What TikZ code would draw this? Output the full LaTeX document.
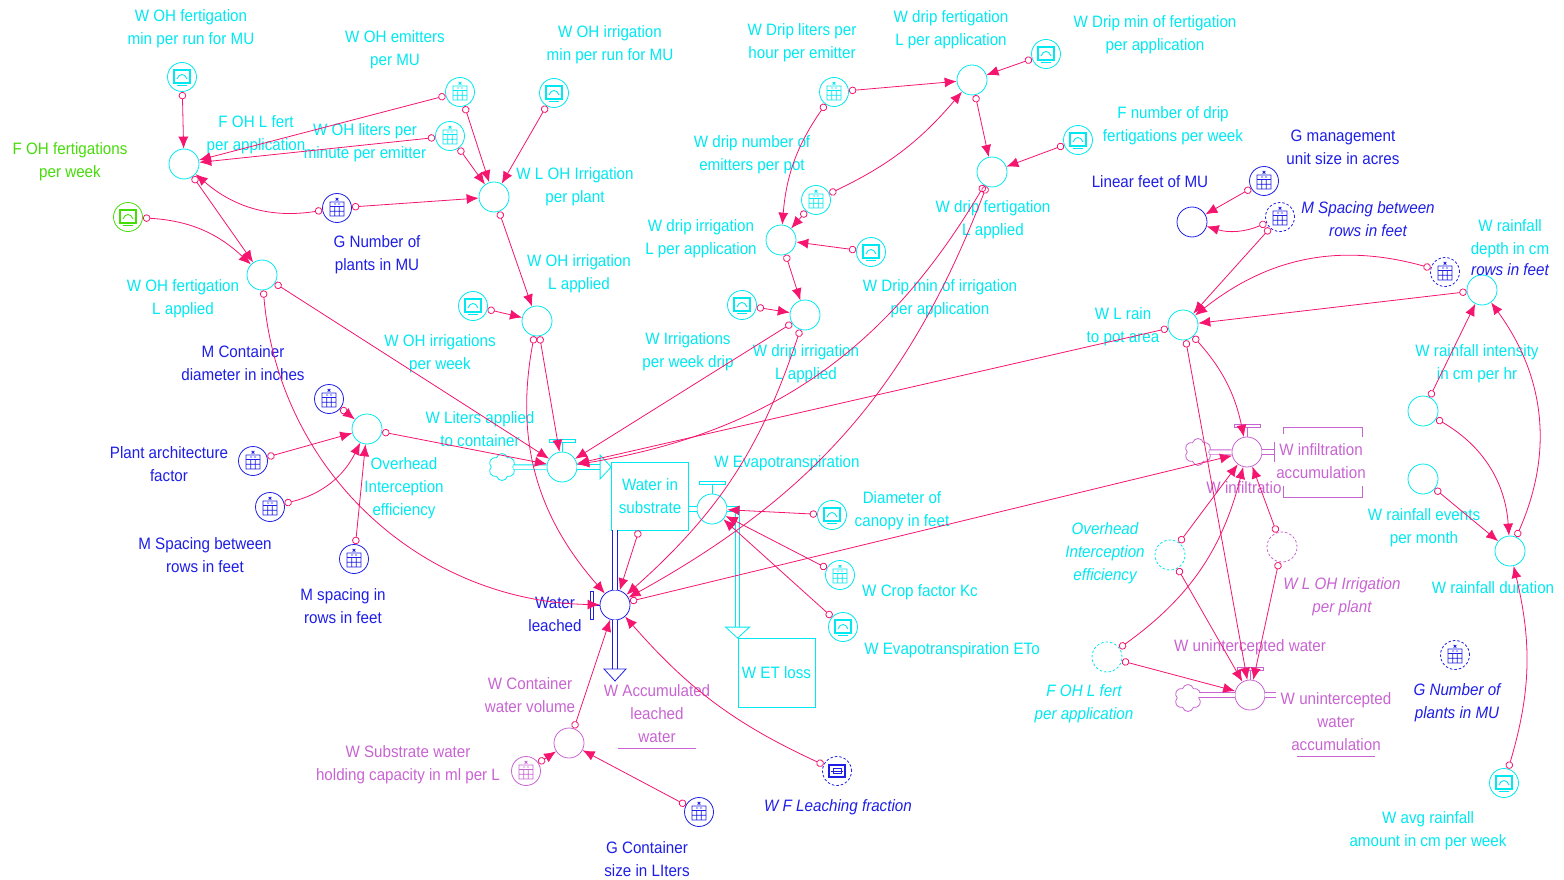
\documentclass[tikz,border=0pt]{standalone}
\usepackage{fontspec}
\setmainfont{Liberation Sans}[FakeStretch=0.92]
\usetikzlibrary{arrows.meta, shapes.symbols, calc}

\definecolor{cyanv}{RGB}{0,232,240}
\definecolor{bluev}{RGB}{30,30,230}
\definecolor{violetv}{RGB}{200,100,210}
\definecolor{greenv}{RGB}{70,220,10}
\definecolor{linkred}{RGB}{245,20,110}

\newcommand\lblfont{\fontsize{16.5}{23}\selectfont}

\tikzset{
  lbl/.style={align=center, inner sep=0pt, font=\lblfont, text=#1},
  lbl/.default=cyanv,
  ilbl/.style={lbl=#1, font=\lblfont\itshape},
  ilbl/.default=cyanv,
  dsh/.style={dash pattern=on 2.5pt off 2pt},
  aux/.style={circle, draw=#1, line width=0.8pt, minimum size=30pt, inner sep=0pt},
  aux/.default=cyanv,
  valve/.style={circle, draw=#1, line width=0.8pt, minimum size=30pt, inner sep=0pt, fill=white},
  lvl/.style={draw=cyanv, line width=0.8pt, minimum width=77pt, minimum height=68pt, inner sep=0pt, align=center, font=\lblfont, text=cyanv, fill=white},
  cloudy/.style={cloud, cloud puffs=6, aspect=1, draw=#1, line width=0.8pt, minimum width=27pt, minimum height=27pt, inner sep=0pt},
  grf/.style={circle, draw=#1, line width=0.8pt, minimum size=29pt, inner sep=0pt, fill=white,
    path picture={
      \draw[#1, solid, line width=1.2pt, shift={(path picture bounding box.center)}] (-8pt,-6pt) rectangle (8pt,7pt);
      \draw[#1, solid, line width=0.9pt, shift={(path picture bounding box.center)}] (-5pt,-2pt) .. controls (-3pt,4pt) and (3pt,4pt) .. (5pt,-2pt);
      \draw[#1, solid, line width=1.3pt, shift={(path picture bounding box.center)}] (-5pt,-8.5pt) -- (5pt,-8.5pt);
    }},
  grf/.default=cyanv,
  calc/.style={circle, draw=#1, line width=0.8pt, minimum size=29pt, inner sep=0pt, fill=white,
    path picture={
      \draw[#1, solid, line width=0.8pt, shift={(path picture bounding box.center)}]
        (-7pt,-8pt) rectangle (7pt,6pt)
        (-7pt,1.5pt) -- (7pt,1.5pt) (-7pt,-3.2pt) -- (7pt,-3.2pt)
        (-2.3pt,1.5pt) -- (-2.3pt,-8pt) (2.3pt,1.5pt) -- (2.3pt,-8pt)
        (-3pt,4pt) -- (-0.8pt,4pt) (0.8pt,4pt) -- (3pt,4pt)
        (-1.3pt,7.5pt) -- (1.3pt,10pt) (-1.3pt,10pt) -- (1.3pt,7.5pt);
    }},
  calc/.default=cyanv,
  link/.style={draw=linkred, line width=0.8pt, {Circle[open, length=7.5pt, width=7.5pt]}-{Latex[length=12pt, width=10pt]}},
  pipe/.style={draw=#1, double=white, double distance=3.5pt, line width=0.8pt},
  pipehead/.style={draw=#1, fill=white, line width=0.8pt}
}

\begin{document}
\begin{tikzpicture}[x=1pt, y=-1pt]
  \useasboundingbox (0,0) rectangle (1564,880);

  % Overhead fertigation (top left)
  \node[grf] (gFertMin) at (182,77) {};
  \node[lbl] at (191,29) {W OH fertigation\\min per run for MU};
  \node[aux] (aFertL) at (184,164) {};
  \node[lbl] at (256,135) {F OH L fert\\per application};
  \node[lbl=greenv] at (70,162) {F OH fertigations\\per week};
  \node[grf=greenv] (gFertWk) at (128,217) {};
  \node[calc] (cEmit) at (460,92) {};
  \node[lbl] at (395,50) {W OH emitters\\per MU};
  \node[calc] (cLiters) at (450,136) {};
  \node[lbl] at (365,143) {W OH liters per\\minute per emitter};
  \node[calc=bluev] (cPlants) at (337,208) {};
  \node[lbl=bluev] at (377,255) {G Number of\\plants in MU};
  \node[aux] (aFertApp) at (262,275) {};
  \node[lbl] at (183,299) {W OH fertigation\\L applied};

  % Overhead irrigation
  \node[aux] (aLOH) at (494,197) {};
  \node[lbl] at (575,187) {W L OH Irrigation\\per plant};
  \node[grf] (gIrrMin) at (554,93) {};
  \node[lbl] at (610,45) {W OH irrigation\\min per run for MU};
  \node[aux] (aIrrL) at (537,321) {};
  \node[lbl] at (579,274) {W OH irrigation\\L applied};
  \node[grf] (gIrrWk) at (473,306) {};
  \node[lbl] at (440,354) {W OH irrigations\\per week};

  % Canopy interception
  \node[calc=bluev] (cCont) at (329,399) {};
  \node[lbl=bluev] at (243,363) {M Container\\diameter in inches};
  \node[calc=bluev] (cArch) at (253,461) {};
  \node[lbl=bluev] at (169,464) {Plant architecture\\factor};
  \node[calc=bluev] (cSpace) at (270,507) {};
  \node[lbl=bluev] at (205,555) {M Spacing between\\rows in feet};
  \node[calc=bluev] (cSpaceIn) at (354,559) {};
  \node[lbl=bluev] at (343,606) {M spacing in\\rows in feet};
  \node[aux] (aOver) at (367,429) {};
  \node[lbl] at (404,488) {Overhead\\Interception\\efficiency};

  % Substrate water balance
  \node[cloudy=cyanv] (cl1) at (502,467) {};
  \node[valve=cyanv] (vLiters) at (562,467) {};
  \node[lbl] at (480,429) {W Liters applied\\to container};
  \node[lvl] (sWater) at (650,496) {Water in\\substrate};
  \node[valve=cyanv] (vET) at (712,509) {};
  \node[lbl] at (787,463) {W Evapotranspiration};
  \node[lvl, minimum height=69pt] (sET) at (776.5,673) {W ET loss};
  \node[grf] (gDiam) at (832,515) {};
  \node[lbl] at (902,511) {Diameter of\\canopy in feet};
  \node[calc] (cKc) at (840,575) {};
  \node[lbl] at (920,592) {W Crop factor Kc};
  \node[grf] (gETo) at (843,627) {};
  \node[lbl] at (952,650) {W Evapotranspiration ETo};
  \node[valve=bluev] (vLeach) at (615,605) {};
  \node[lbl=bluev] at (555,614) {Water\\leached};
  \node[aux=violetv] (aContVol) at (569,743) {};
  \node[lbl=violetv] at (530,695) {W Container\\water volume};
  \node[calc=violetv] (cHold) at (526,771) {};
  \node[lbl=violetv] at (408,765) {W Substrate water\\holding capacity in ml per L};
  \node[lbl=violetv] (lAcc) at (657,714) {W Accumulated\\leached\\water};
  \node[calc=bluev] (cContSize) at (699,812) {};
  \node[lbl=bluev] at (647,859) {G Container\\size in LIters};
  \node[circle, draw=bluev, dsh, line width=0.8pt, minimum size=29pt, inner sep=0pt] (dLeach) at (837,771) {};
  \node[ilbl=bluev] at (838,807) {W F Leaching fraction};

  % Drip fertigation and irrigation (top centre)
  \node[calc] (cDripLiters) at (834,92) {};
  \node[lbl] at (802,43) {W Drip liters per\\hour per emitter};
  \node[aux] (aDripFertL) at (972,80) {};
  \node[lbl] at (951,30) {W drip fertigation\\L per application};
  \node[grf] (gDripMinFert) at (1046,54) {};
  \node[lbl] at (1155,35) {W Drip min of fertigation\\per application};
  \node[calc] (cDripNum) at (816,200) {};
  \node[lbl] at (752,155) {W drip number of\\emitters per pot};
  \node[grf] (gFertWkDrip) at (1078,140) {};
  \node[lbl] at (1173,126) {F number of drip\\fertigations per week};
  \node[aux] (aDripFertApp) at (992,172) {};
  \node[lbl] at (993,220) {W drip fertigation\\L applied};
  \node[aux] (aDripIrrL) at (781,240) {};
  \node[lbl] at (701,239) {W drip irrigation\\L per application};
  \node[grf] (gDripMinIrr) at (871,252) {};
  \node[lbl] at (940,299) {W Drip min of irrigation\\per application};
  \node[aux] (aDripIrrApp) at (805,315) {};
  \node[lbl] at (806,364) {W drip irrigation\\L applied};
  \node[grf] (gIrrWkDrip) at (742,305) {};
  \node[lbl] at (688,352) {W Irrigations\\per week drip};

  % Rain (right)
  \node[calc=bluev] (cMU) at (1264,181) {};
  \node[lbl=bluev] at (1343,147) {G management\\unit size in acres};
  \node[aux=bluev] (aLinear) at (1192,222) {};
  \node[lbl=bluev] at (1150,182) {Linear feet of MU};
  \node[calc=bluev, dsh] (dSpace) at (1280,217) {};
  \node[ilbl=bluev] at (1368,219) {M Spacing between\\rows in feet};
  \node[aux] (aRain) at (1183,325) {};
  \node[lbl] at (1123,327) {W L rain\\to pot area};
  \node[calc=bluev, dsh] (dSpace2) at (1445,272) {};
  \node[aux] (aDepth) at (1482,290) {};
  \node[lbl] at (1510,239) {W rainfall\\depth in cm};
  \node[ilbl=bluev] at (1510,270) {rows in feet};
  \node[aux] (aIntens) at (1423,411) {};
  \node[lbl] at (1477,364) {W rainfall intensity\\in cm per hr};
  \node[aux] (aEvents) at (1423,479) {};
  \node[lbl] at (1424,528) {W rainfall events\\per month};
  \node[aux] (aDur) at (1510,551) {};
  \node[lbl] at (1493,588) {W rainfall duration};
  \node[grf] (gAvgRain) at (1504,783) {};
  \node[lbl] at (1428,831) {W avg rainfall\\amount in cm per week};
  \node[calc=bluev, dsh] (dPlants) at (1455,655) {};
  \node[ilbl=bluev] at (1457,703) {G Number of\\plants in MU};

  % Infiltration and unintercepted water
  \node[cloudy=violetv] (cl2) at (1198,452) {};
  \node[valve=violetv] (vInfil) at (1247,452) {};
  \node[lbl=violetv] at (1321,461) {W infiltration\\accumulation};
  \node[lbl=violetv] at (1244,488) {W infiltratio};
  \node[aux, dsh] (dOver) at (1170,555) {};
  \node[ilbl] at (1105,553) {Overhead\\Interception\\efficiency};
  \node[aux=violetv, dsh] (dLOH) at (1282,547) {};
  \node[ilbl=violetv] at (1342,597) {W L OH Irrigation\\per plant};
  \node[aux, dsh] (dFertL) at (1107,657) {};
  \node[ilbl] at (1084,704) {F OH L fert\\per application};
  \node[cloudy=violetv] (cl3) at (1188,698) {};
  \node[valve=violetv] (vUnint) at (1250,695) {};
  \node[lbl=violetv] at (1250,647) {W unintercepted water};
  \node[lbl=violetv] (lUnint) at (1336,722) {W unintercepted\\water\\accumulation};

  % Flow pipes
  \draw[pipe=cyanv] (cl1) -- (vLiters);
  \draw[pipe=cyanv] (vLiters) -- ($(vLiters -| sWater.west)+(-11,0)$);
  \draw[pipehead=cyanv] ($(vLiters -| sWater.west)+(-11,-12)$) -- (vLiters -| sWater.west) -- ($(vLiters -| sWater.west)+(-11,12)$) -- cycle;
  \draw[pipe=cyanv] (sWater.east |- vET) -- (vET);
  \draw[pipe=cyanv] (vET) -- (vET -| sET.west) -- ($(sET.north west)+(0,-11)$);
  \draw[pipehead=cyanv] ($(sET.north west)+(-12,-11)$) -- (sET.north west) -- ($(sET.north west)+(12,-11)$) -- cycle;
  \draw[pipe=bluev] (sWater.south -| vLeach) -- (vLeach);
  \draw[pipe=bluev] (vLeach) -- ($(vLeach)+(0,64)$);
  \draw[pipehead=bluev] ($(vLeach)+(-11,64)$) -- ($(vLeach)+(0,76)$) -- ($(vLeach)+(11,64)$) -- cycle;
  \draw[pipe=violetv] (cl2) -- (vInfil);
  \draw[pipe=violetv] (vInfil) -- ($(vInfil)+(27,0)$);
  \draw[violetv, line width=0.8pt] ($(vInfil)+(27,-10)$) -- ++(0,20);
  \draw[pipe=violetv] (cl3.east |- vUnint) -- (vUnint);
  \draw[pipe=violetv] (vUnint) -- ($(vUnint)+(26,0)$);

  % Valve handles
  \foreach \v/\c in {vLiters/cyanv, vET/cyanv, vInfil/violetv, vUnint/violetv} {
    \draw[\c, line width=0.8pt] (\v.north) -- ++(0,-9);
    \draw[\c, line width=0.8pt, fill=white] ($(\v.north)+(-13,-9)$) rectangle ($(\v.north)+(13,-12)$);
  }
  \draw[bluev, line width=0.8pt] (vLeach.west) -- ++(-6,0);
  \draw[bluev, line width=0.8pt, fill=white] ($(vLeach.west)+(-6,-14)$) rectangle ($(vLeach.west)+(-9,14)$);

  % Leaching fraction icon
  \draw[bluev, line width=1.6pt] ($(dLeach)+(-8,-6)$) rectangle ($(dLeach)+(8,6)$);
  \draw[bluev, line width=0.9pt] ($(dLeach)+(-4,-2.5)$) rectangle ($(dLeach)+(4,2.5)$) ($(dLeach)+(-6,0)$) -- ($(dLeach)+(6,0)$);

  % Underlines and bracket
  \draw[violetv, line width=0.8pt] ($(lAcc.south)+(-39,5)$) -- ++(78,0);
  \draw[violetv, line width=0.8pt] ($(lUnint.south)+(-39,5)$) -- ++(78,0);
  \draw[violetv, line width=0.8pt] (1283,434) -- (1283,427) -- (1362,427) -- (1362,437)
    (1283,486) -- (1283,497) -- (1362,497) -- (1362,486);

  % Links
  \foreach \a/\b in {gFertMin/aFertL, cEmit/aFertL, cLiters/aFertL, cPlants/aLOH, cEmit/aLOH,
      cLiters/aLOH, gIrrMin/aLOH, aLOH/aIrrL, gIrrWk/aIrrL, aFertL/aFertApp, aFertApp/vLiters,
      aIrrL/vLiters, cCont/aOver, cArch/aOver, cSpaceIn/aOver, aOver/vLiters, aDripIrrApp/vLiters,
      aRain/vLiters, sWater/vLeach, gDiam/vET, cKc/vET, gETo/vET, aContVol/vLeach, cHold/aContVol,
      cContSize/aContVol, vLeach/vInfil}
    \draw[link] (\a) -- (\b);
  \foreach \a/\b in {cDripLiters/aDripFertL, gDripMinFert/aDripFertL, aDripFertL/aDripFertApp,
      gFertWkDrip/aDripFertApp, cDripNum/aDripIrrL, gDripMinIrr/aDripIrrL, aDripIrrL/aDripIrrApp,
      gIrrWkDrip/aDripIrrApp, cMU/aLinear, dSpace/aRain, aDepth/aRain, aIntens/aDepth,
      aEvents/aDur, aRain/vUnint, dOver/vInfil, dLOH/vInfil, dOver/vUnint, dFertL/vUnint, dLOH/vUnint}
    \draw[link] (\a) -- (\b);

  \draw[link] (cPlants) to[bend left=25] (aFertL);
  \draw[link] (gFertWk) to[bend left=20] (aFertApp);
  \draw[link] (aFertApp) to[bend right=42] (vLeach);
  \draw[link] (aIrrL) to[bend right=26] (vLeach);
  \draw[link] (cSpace) to[bend right=25] (aOver);
  \draw[link] (aDripFertApp) to[bend left=25] (vLiters);
  \draw[link] (aDripFertApp) to[bend left=20] (vLeach);
  \draw[link] (aDripIrrApp) to[bend left=15] (vLeach);
  \draw[link] (cDripNum) to[bend right=12] (aDripFertL);
  \draw[link] (cDripLiters) to[bend right=15] (aDripIrrL);
  \draw[link] (dLeach) to[bend left=12] (vLeach);
  \draw[link] (dSpace) to[bend left=20] (aLinear);
  \draw[link] (dSpace2) to[bend right=27] (aRain);
  \draw[link] (aDur) to[bend right=30] (aDepth);
  \draw[link] (aIntens) to[bend left=28] (aDur);
  \draw[link] (gAvgRain) to[bend right=15] (aDur);
  \draw[link] (aRain) to[bend left=15] (vInfil);
  \draw[link] (dFertL) to[bend right=20] (vInfil);
\end{tikzpicture}
\end{document}
